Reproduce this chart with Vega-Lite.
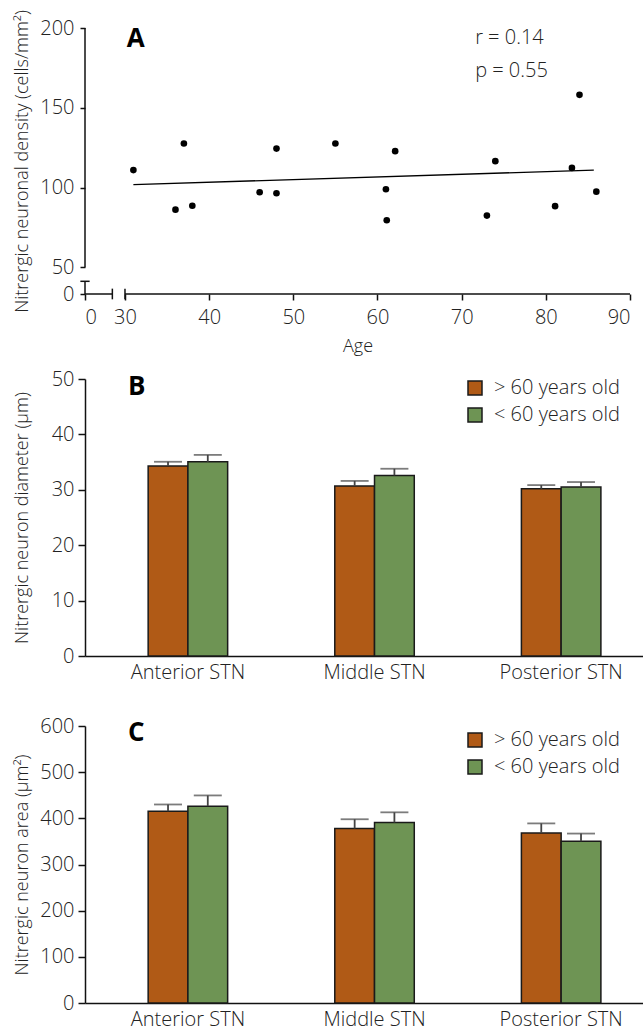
{
  "$schema": "https://vega.github.io/schema/vega-lite/v6.json",
  "padding": {"left": 12, "top": 9, "right": 0, "bottom": 6},
  "spacing": 14,
  "resolve": {"scale": {"color": "independent"}, "legend": {"color": "independent"}},
  "config": {
    "font": "Open Sans",
    "view": {"stroke": null},
    "axis": {
      "labelFont": "Open Sans", "labelFontSize": 20, "labelFontWeight": 300, "labelColor": "#222",
      "titleFont": "Open Sans", "titleFontSize": 18, "titleFontWeight": 300, "titleColor": "#222",
      "domainColor": "#111", "tickColor": "#111", "domainWidth": 1.5, "tickWidth": 1.5, "grid": false
    },
    "legend": {
      "labelFont": "Open Sans", "labelFontSize": 20, "labelFontWeight": 300, "labelColor": "#222",
      "symbolType": "square", "symbolSize": 196, "symbolStrokeColor": "#1a1a1a", "symbolStrokeWidth": 1.5,
      "symbolOpacity": 1, "rowPadding": 7, "labelOffset": 9, "padding": 0
    }
  },
  "datasets": {
    "scatter": [
      {"age": 31.0, "density": 110.9},
      {"age": 37.0, "density": 127.6},
      {"age": 36.0, "density": 86.1},
      {"age": 38.0, "density": 88.6},
      {"age": 46.0, "density": 97.0},
      {"age": 48.0, "density": 124.4},
      {"age": 48.0, "density": 96.4},
      {"age": 55.0, "density": 127.6},
      {"age": 62.1, "density": 122.8},
      {"age": 61.0, "density": 98.9},
      {"age": 61.1, "density": 79.5},
      {"age": 74.0, "density": 116.5},
      {"age": 73.0, "density": 82.4},
      {"age": 84.0, "density": 158.1},
      {"age": 83.1, "density": 112.3},
      {"age": 86.0, "density": 97.4},
      {"age": 81.1, "density": 88.3}
    ],
    "fit": [
      {"age": 31.0, "density": 101.8},
      {"age": 85.7, "density": 110.9}
    ],
    "diameter": [
      {"region": "Anterior STN", "group": "> 60 years old", "mean": 34.3, "upper": 35.06},
      {"region": "Anterior STN", "group": "< 60 years old", "mean": 35.06, "upper": 36.3},
      {"region": "Middle STN", "group": "> 60 years old", "mean": 30.7, "upper": 31.6},
      {"region": "Middle STN", "group": "< 60 years old", "mean": 32.6, "upper": 33.8},
      {"region": "Posterior STN", "group": "> 60 years old", "mean": 30.2, "upper": 30.85},
      {"region": "Posterior STN", "group": "< 60 years old", "mean": 30.5, "upper": 31.4}
    ],
    "area": [
      {"region": "Anterior STN", "group": "> 60 years old", "mean": 415.5, "upper": 430},
      {"region": "Anterior STN", "group": "< 60 years old", "mean": 426.4, "upper": 449.6},
      {"region": "Middle STN", "group": "> 60 years old", "mean": 378, "upper": 398},
      {"region": "Middle STN", "group": "< 60 years old", "mean": 391, "upper": 413},
      {"region": "Posterior STN", "group": "> 60 years old", "mean": 368, "upper": 389},
      {"region": "Posterior STN", "group": "< 60 years old", "mean": 350.5, "upper": 367}
    ]
  },
  "vconcat": [
    {
      "width": 545,
      "height": 266,
      "layer": [
        {
          "data": {"name": "scatter"},
          "mark": {"type": "point", "filled": true, "size": 44, "color": "#000", "opacity": 1},
          "encoding": {
            "x": {"field": "age", "type": "quantitative",
              "scale": {"domain": [25.25, 90], "nice": false, "zero": false},
              "axis": {"values": [25.25, 30, 40, 50, 60, 70, 80, 90], "labelExpr": "datum.value < 29 ? '0' : datum.label", "domain": false, "title": "Age", "tickSize": 6, "labelPadding": 7, "titlePadding": 10}},
            "y": {"field": "density", "type": "quantitative",
              "scale": {"domain": [33.24, 200], "nice": false, "zero": false},
              "axis": {"values": [33.24, 50, 100, 150, 200], "labelExpr": "datum.value < 40 ? '0' : datum.label", "domain": false, "title": "Nitrergic neuronal density (cells/mm²)", "tickSize": 5, "labelPadding": 6, "minExtent": 46, "maxExtent": 46, "titlePadding": 8}}
          }
        },
        {
          "data": {"name": "fit"},
          "mark": {"type": "line", "color": "#000", "strokeWidth": 1.3},
          "encoding": {
            "x": {"field": "age", "type": "quantitative"},
            "y": {"field": "density", "type": "quantitative"}
          }
        },
        {
          "data": {"values": [{}]},
          "mark": {"type": "rule", "color": "#111", "strokeWidth": 1.5},
          "encoding": {"x": {"datum": 25.25}, "x2": {"datum": 28.5}, "y": {"datum": 33.24}}
        },
        {
          "data": {"values": [{}]},
          "mark": {"type": "rule", "color": "#111", "strokeWidth": 1.5},
          "encoding": {"x": {"datum": 30}, "x2": {"datum": 90}, "y": {"datum": 33.24}}
        },
        {
          "data": {"values": [{}]},
          "mark": {"type": "rule", "color": "#111", "strokeWidth": 1.5},
          "encoding": {"x": {"datum": 28.5}, "y": {"datum": 29.9}, "y2": {"datum": 36.6}}
        },
        {
          "data": {"values": [{}]},
          "mark": {"type": "rule", "color": "#111", "strokeWidth": 1.5},
          "encoding": {"x": {"datum": 30}, "y": {"datum": 29.9}, "y2": {"datum": 36.6}}
        },
        {
          "data": {"values": [{}]},
          "mark": {"type": "rule", "color": "#111", "strokeWidth": 1.5},
          "encoding": {"x": {"datum": 25.25}, "y": {"datum": 33.24}, "y2": {"datum": 41.2}}
        },
        {
          "data": {"values": [{}]},
          "mark": {"type": "rule", "color": "#111", "strokeWidth": 1.5},
          "encoding": {"x": {"datum": 25.25}, "y": {"datum": 50}, "y2": {"datum": 200}}
        },
        {
          "data": {"values": [{}]},
          "mark": {"type": "rule", "color": "#111", "strokeWidth": 1.5},
          "encoding": {"x": {"datum": 24.7}, "x2": {"datum": 25.8}, "y": {"datum": 41.2}}
        },
        {
          "data": {"values": [{}]},
          "mark": {"type": "text", "text": ["r = 0.14", "p = 0.55"], "lineHeight": 33, "align": "left", "baseline": "alphabetic", "fontSize": 20, "fontWeight": 300, "color": "#222", "font": "Open Sans"},
          "encoding": {"x": {"datum": 71.6}, "y": {"datum": 190.1}}
        },
        {
          "data": {"values": [{}]},
          "mark": {"type": "text", "text": "A", "align": "left", "baseline": "alphabetic", "fontSize": 26, "fontWeight": "bold", "color": "#000", "font": "Open Sans"},
          "encoding": {"x": {"datum": 30.2}, "y": {"datum": 188.3}}
        }
      ]
    },
    {
      "spacing": 34,
      "resolve": {"scale": {"color": "independent"}, "legend": {"color": "independent"}},
      "vconcat": [
        {
          "width": 558,
          "height": 277,
          "data": {"name": "diameter"},
          "layer": [
            {
              "mark": {"type": "bar", "stroke": "#1a1a1a", "strokeWidth": 1.5},
              "encoding": {
                "x": {"field": "region", "type": "nominal", "sort": ["Anterior STN", "Middle STN", "Posterior STN"],
                  "scale": {"paddingInner": 0.574, "paddingOuter": 0.282, "align": 0.6},
                  "axis": {"title": null, "labelAngle": 0, "ticks": false, "labelPadding": 6}},
                "xOffset": {"field": "group", "type": "nominal", "sort": ["> 60 years old", "< 60 years old"]},
                "y": {"field": "mean", "type": "quantitative", "scale": {"domain": [0, 50], "nice": false},
                  "axis": {"values": [0, 10, 20, 30, 40, 50], "title": "Nitrergic neuron diameter (μm)", "tickSize": 7, "labelPadding": 4, "minExtent": 46, "maxExtent": 46, "titlePadding": 8}},
                "color": {"field": "group", "type": "nominal",
                  "scale": {"domain": ["> 60 years old", "< 60 years old"], "range": ["#B05A16", "#6E9454"]},
                  "legend": {"title": null, "orient": "none", "legendX": 380, "legendY": -1}}
              }
            },
            {
              "mark": {"type": "rule", "color": "#444", "strokeWidth": 1.8},
              "encoding": {
                "x": {"field": "region", "type": "nominal", "sort": ["Anterior STN", "Middle STN", "Posterior STN"]},
                "xOffset": {"field": "group", "type": "nominal", "sort": ["> 60 years old", "< 60 years old"]},
                "y": {"field": "mean", "type": "quantitative"}, "y2": {"field": "upper"}}
            },
            {
              "mark": {"type": "tick", "color": "#444", "thickness": 1.8, "size": 28},
              "encoding": {
                "x": {"field": "region", "type": "nominal", "sort": ["Anterior STN", "Middle STN", "Posterior STN"]},
                "xOffset": {"field": "group", "type": "nominal", "sort": ["> 60 years old", "< 60 years old"]},
                "y": {"field": "upper", "type": "quantitative"}}
            },
            {
              "data": {"values": [{}]},
              "mark": {"type": "text", "text": "B", "align": "left", "baseline": "alphabetic", "fontSize": 26, "fontWeight": "bold", "color": "#000", "font": "Open Sans", "dx": -60},
              "encoding": {"x": {"datum": "Anterior STN"}, "y": {"datum": 47.1}}
            }
          ]
        },
        {
          "width": 558,
          "height": 277,
          "data": {"name": "area"},
          "layer": [
            {
              "mark": {"type": "bar", "stroke": "#1a1a1a", "strokeWidth": 1.5},
              "encoding": {
                "x": {"field": "region", "type": "nominal", "sort": ["Anterior STN", "Middle STN", "Posterior STN"],
                  "scale": {"paddingInner": 0.574, "paddingOuter": 0.282, "align": 0.6},
                  "axis": {"title": null, "labelAngle": 0, "ticks": false, "labelPadding": 6}},
                "xOffset": {"field": "group", "type": "nominal", "sort": ["> 60 years old", "< 60 years old"]},
                "y": {"field": "mean", "type": "quantitative", "scale": {"domain": [0, 600], "nice": false},
                  "axis": {"values": [0, 100, 200, 300, 400, 500, 600], "title": "Nitrergic neuron area (μm²)", "tickSize": 7, "labelPadding": 4, "minExtent": 46, "maxExtent": 46, "titlePadding": 8}},
                "color": {"field": "group", "type": "nominal",
                  "scale": {"domain": ["> 60 years old", "< 60 years old"], "range": ["#B05A16", "#6E9454"]},
                  "legend": {"title": null, "orient": "none", "legendX": 380, "legendY": 4}}
              }
            },
            {
              "mark": {"type": "rule", "color": "#444", "strokeWidth": 1.8},
              "encoding": {
                "x": {"field": "region", "type": "nominal", "sort": ["Anterior STN", "Middle STN", "Posterior STN"]},
                "xOffset": {"field": "group", "type": "nominal", "sort": ["> 60 years old", "< 60 years old"]},
                "y": {"field": "mean", "type": "quantitative"}, "y2": {"field": "upper"}}
            },
            {
              "mark": {"type": "tick", "color": "#444", "thickness": 1.8, "size": 28},
              "encoding": {
                "x": {"field": "region", "type": "nominal", "sort": ["Anterior STN", "Middle STN", "Posterior STN"]},
                "xOffset": {"field": "group", "type": "nominal", "sort": ["> 60 years old", "< 60 years old"]},
                "y": {"field": "upper", "type": "quantitative"}}
            },
            {
              "data": {"values": [{}]},
              "mark": {"type": "text", "text": "C", "align": "left", "baseline": "alphabetic", "fontSize": 26, "fontWeight": "bold", "color": "#000", "font": "Open Sans", "dx": -60},
              "encoding": {"x": {"datum": "Anterior STN"}, "y": {"datum": 567.3}}
            }
          ]
        }
      ]
    }
  ]
}
